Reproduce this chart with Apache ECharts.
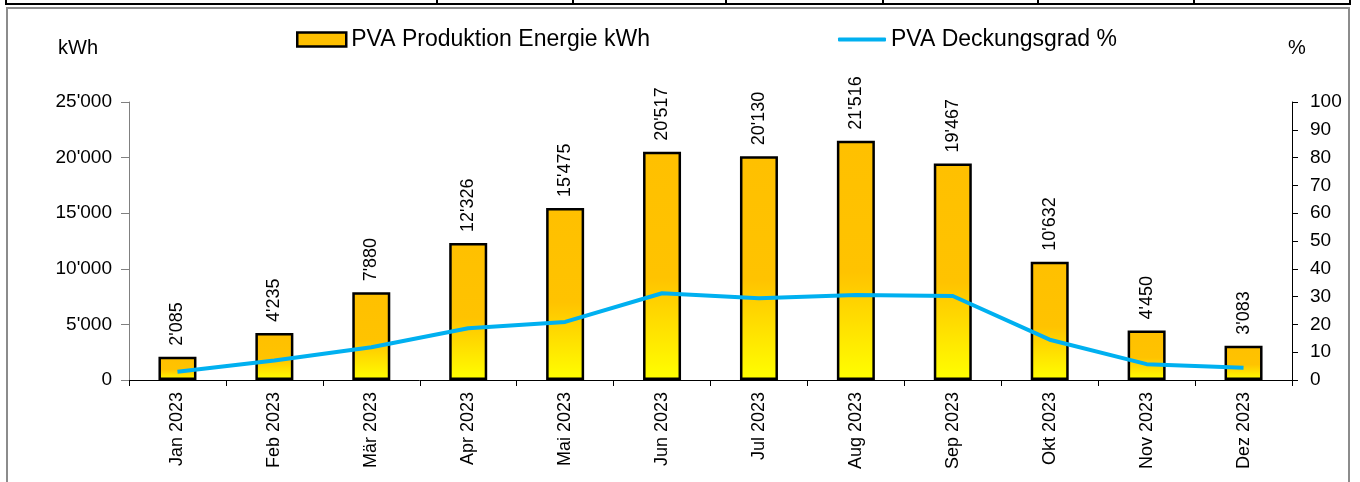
<!DOCTYPE html>
<html>
<head>
<meta charset="utf-8">
<script src="https://cdn.jsdelivr.net/npm/echarts@6/dist/echarts.min.js"></script>
<style>
  html, body { margin: 0; padding: 0; background: #fff; }
  #chart { width: 1360px; height: 482px; }
</style>
</head>
<body>
<div id="chart"></div>
<script>
// Monthly PV production and coverage ratio, 2023
const months = ['Jan 2023', 'Feb 2023', 'Mär 2023', 'Apr 2023', 'Mai 2023', 'Jun 2023',
                'Jul 2023', 'Aug 2023', 'Sep 2023', 'Okt 2023', 'Nov 2023', 'Dez 2023'];
const energyKWh = [2085, 4235, 7880, 12326, 15475, 20517, 20130, 21516, 19467, 10632, 4450, 3083];
const coveragePct = [3.0, 7.0, 11.8, 18.6, 20.9, 31.2, 29.4, 30.6, 30.2, 14.5, 5.7, 4.4];
const energyTicks = { min: 0, max: 25000, step: 5000 };
const pctTicks = { min: 0, max: 100, step: 10 };

const barName = 'PVA Produktion Energie kWh';
const lineName = 'PVA Deckungsgrad %';
const FONT = '"Liberation Sans", Arial, sans-serif';

// Swiss style thousands separator: 21'516
function swiss(v) {
  return String(Math.round(v)).replace(/\B(?=(\d{3})+(?!\d))/g, "'");
}

const chart = echarts.init(document.getElementById('chart'), null, { renderer: 'canvas' });

// orange body fading to yellow towards the foot of each bar
const barFill = {
  type: 'linear', x: 0, y: 0, x2: 0, y2: 1,
  colorStops: [
    { offset: 0, color: '#FFC000' },
    { offset: 0.55, color: '#FFC300' },
    { offset: 1, color: '#FFFF00' }
  ]
};

const option = {
  backgroundColor: '#ffffff',
  animation: false,
  textStyle: { fontFamily: FONT, color: '#000' },
  grid: { left: 129, right: 68, top: 102, bottom: 102, containLabel: false },
  legend: [
    {
      left: 296, top: 28, padding: 0,
      itemWidth: 49, itemHeight: 14, itemGap: 5,
      textStyle: { fontSize: 23, color: '#000', fontFamily: FONT },
      data: [{ name: barName, icon: 'rect', itemStyle: { color: '#FFC000', borderColor: '#000', borderWidth: 2.5 } }]
    },
    {
      left: 838, top: 28, padding: 0,
      itemWidth: 48, itemHeight: 4, itemGap: 5,
      textStyle: { fontSize: 23, color: '#000', fontFamily: FONT },
      data: [{ name: lineName, icon: 'roundRect', itemStyle: { color: '#00B0F0', borderWidth: 0 } }]
    }
  ],
  xAxis: {
    type: 'category',
    data: months,
    boundaryGap: true,
    axisLine: { show: true, lineStyle: { color: '#000', width: 1 } },
    axisTick: { show: true, alignWithLabel: false, length: 6, lineStyle: { color: '#000' } },
    axisLabel: { rotate: 90, fontSize: 18, color: '#000', margin: 12, fontFamily: FONT, interval: 0 },
    splitLine: { show: false }
  },
  yAxis: [
    {
      type: 'value',
      min: energyTicks.min, max: energyTicks.max, interval: energyTicks.step,
      axisLine: { show: true, lineStyle: { color: '#808080', width: 1 } },
      axisTick: { show: true, length: 8, lineStyle: { color: '#808080' } },
      axisLabel: { fontSize: 19, color: '#000', margin: 17, fontFamily: FONT, formatter: swiss },
      splitLine: { show: false }
    },
    {
      type: 'value',
      position: 'right',
      min: pctTicks.min, max: pctTicks.max, interval: pctTicks.step,
      axisLine: { show: true, lineStyle: { color: '#000', width: 1 } },
      axisTick: { show: true, length: 6, lineStyle: { color: '#000' } },
      axisLabel: { fontSize: 19, color: '#000', margin: 18, fontFamily: FONT },
      splitLine: { show: false }
    }
  ],
  series: [
    {
      name: barName,
      type: 'bar',
      yAxisIndex: 0,
      data: energyKWh,
      barWidth: 38,
      itemStyle: { color: barFill, borderColor: '#000', borderWidth: 2.5 },
      label: {
        show: true,
        position: 'top',
        rotate: 90,
        align: 'left',
        verticalAlign: 'middle',
        distance: 11,
        fontSize: 18,
        color: '#000',
        fontFamily: FONT,
        formatter: p => swiss(p.value)
      },
      z: 2
    },
    {
      name: lineName,
      type: 'line',
      yAxisIndex: 1,
      data: coveragePct,
      symbol: 'none',
      smooth: false,
      lineStyle: { color: '#00B0F0', width: 4 },
      itemStyle: { color: '#00B0F0' },
      z: 5
    }
  ],
  graphic: [
    // axis unit captions
    { type: 'text', left: 58, top: 38, style: { text: 'kWh', font: '20px ' + FONT, fill: '#000' } },
    { type: 'text', left: 1288, top: 38, style: { text: '%', font: '20px ' + FONT, fill: '#000' } },
    // chart frame
    { type: 'polyline', shape: { points: [[7, 482], [7, 8], [1349, 8], [1349, 482]] },
      style: { stroke: '#8c8c8c', lineWidth: 2, fill: null }, silent: true },
    // table row edge above the chart
    { type: 'line', shape: { x1: 5, y1: 4, x2: 1351, y2: 4 }, style: { stroke: '#000', lineWidth: 2 }, silent: true },
    { type: 'line', shape: { x1: 6, y1: 0, x2: 6, y2: 4 }, style: { stroke: '#000', lineWidth: 2 }, silent: true },
    { type: 'line', shape: { x1: 437, y1: 0, x2: 437, y2: 4 }, style: { stroke: '#000', lineWidth: 2 }, silent: true },
    { type: 'line', shape: { x1: 573, y1: 0, x2: 573, y2: 4 }, style: { stroke: '#000', lineWidth: 2 }, silent: true },
    { type: 'line', shape: { x1: 726, y1: 0, x2: 726, y2: 4 }, style: { stroke: '#000', lineWidth: 2 }, silent: true },
    { type: 'line', shape: { x1: 883, y1: 0, x2: 883, y2: 4 }, style: { stroke: '#000', lineWidth: 2 }, silent: true },
    { type: 'line', shape: { x1: 1038, y1: 0, x2: 1038, y2: 4 }, style: { stroke: '#000', lineWidth: 2 }, silent: true },
    { type: 'line', shape: { x1: 1194, y1: 0, x2: 1194, y2: 4 }, style: { stroke: '#000', lineWidth: 2 }, silent: true },
    { type: 'line', shape: { x1: 1350, y1: 0, x2: 1350, y2: 4 }, style: { stroke: '#000', lineWidth: 2 }, silent: true }
  ]
};

chart.setOption(option);
</script>
</body>
</html>
